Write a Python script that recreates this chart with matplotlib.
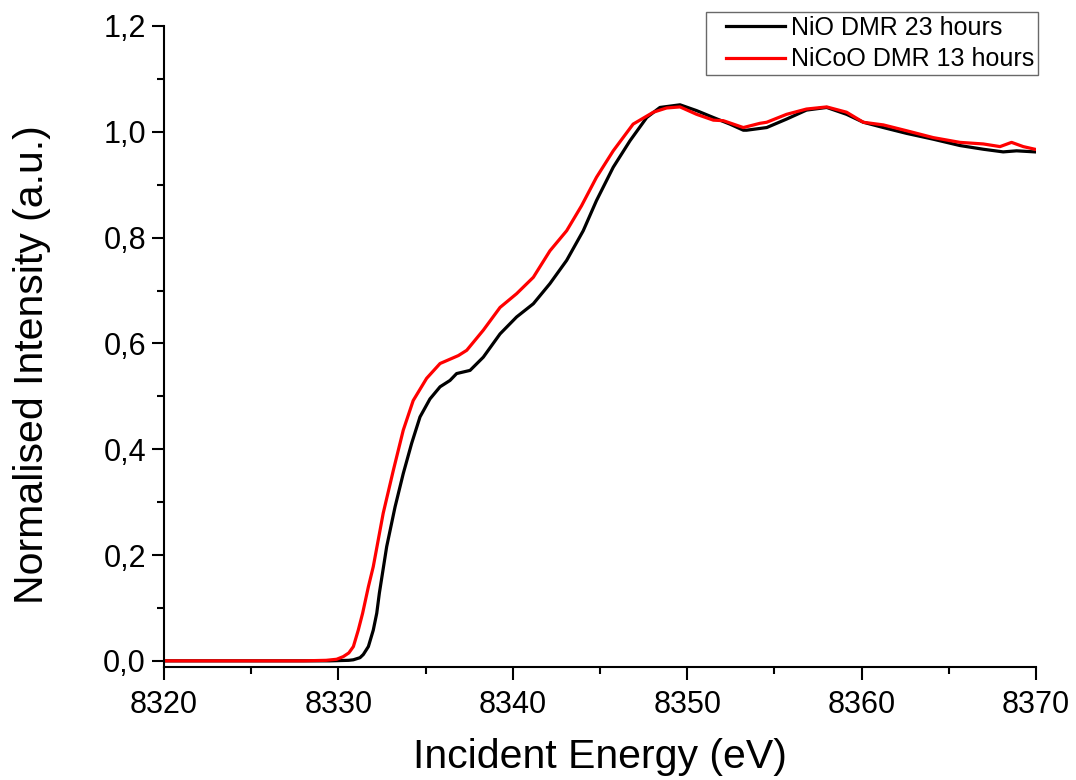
"""
XANES Ni K-edge comparison: NiO vs NiCoO after DMR
"""
import matplotlib
matplotlib.use('Agg')
import matplotlib.pyplot as plt
from matplotlib.lines import Line2D
from matplotlib.legend_handler import HandlerLine2D
from matplotlib.ticker import MultipleLocator, FuncFormatter

plt.rcParams['font.family'] = ['Liberation Sans', 'DejaVu Sans']

# NiO DMR 23 hours (black)
nio_energy = [8320.0, 8324.0, 8328.0, 8329.5, 8330.6, 8330.86, 8331.24, 8331.43, 8331.72,
              8332.0, 8332.2, 8332.35, 8332.77,
              8333.25, 8333.72, 8334.2, 8334.68, 8335.25, 8335.83, 8336.4, 8336.78,
              8337.55, 8338.31, 8339.27, 8340.22, 8341.18, 8342.13, 8343.09, 8344.04,
              8344.8, 8345.76, 8346.72, 8347.68, 8348.44, 8349.59, 8350.54, 8351.5,
              8352.45, 8353.22, 8353.41, 8354.56, 8355.7, 8356.84, 8358.0, 8359.14,
              8360.1, 8361.25, 8362.58, 8364.11, 8365.64, 8366.98, 8368.12, 8368.89,
              8369.94]
nio_intensity = [0.0, 0.0, 0.0, 0.0, 0.001, 0.002, 0.006, 0.012, 0.027,
                 0.058, 0.090, 0.128, 0.216,
                 0.291, 0.354, 0.411, 0.461, 0.495, 0.518, 0.530, 0.543,
                 0.549, 0.574, 0.618, 0.650, 0.675, 0.713, 0.757, 0.813,
                 0.870, 0.933, 0.983, 1.027, 1.046, 1.051, 1.040, 1.027,
                 1.0145, 1.003, 1.003, 1.008, 1.024, 1.041, 1.046, 1.033,
                 1.018, 1.008, 0.997, 0.986, 0.974, 0.967, 0.962, 0.964,
                 0.962]

# NiCoO DMR 13 hours (red)
nicoo_energy = [8320.0, 8324.0, 8328.0, 8329.3, 8329.9, 8330.28, 8330.6, 8330.86, 8331.14,
                8331.39, 8331.72, 8332.0, 8332.57,
                8333.15, 8333.72, 8334.29, 8335.06, 8335.83, 8336.88, 8337.36, 8338.31,
                8339.27, 8340.22, 8341.18, 8342.13, 8343.09, 8343.94, 8344.8, 8345.76,
                8346.9, 8348.06, 8348.82, 8349.59, 8350.54, 8351.5, 8352.07, 8353.22,
                8354.17, 8354.56, 8355.7, 8356.84, 8358.0, 8359.14, 8360.1, 8361.25,
                8362.58, 8364.11, 8365.64, 8366.98, 8367.94, 8368.6, 8369.27, 8369.94]
nicoo_intensity = [0.0, 0.0, 0.0, 0.001, 0.003, 0.008, 0.015, 0.027, 0.058,
                   0.090, 0.140, 0.178, 0.279,
                   0.360, 0.436, 0.492, 0.534, 0.562, 0.577, 0.587, 0.625,
                   0.668, 0.694, 0.725, 0.775, 0.813, 0.860, 0.914, 0.964,
                   1.0145, 1.037, 1.045, 1.047, 1.033, 1.022, 1.021, 1.008,
                   1.016, 1.018, 1.033, 1.043, 1.047, 1.037, 1.018, 1.013,
                   1.002, 0.989, 0.980, 0.977, 0.972, 0.980, 0.972, 0.967]

x_ticks = [8320, 8330, 8340, 8350, 8360, 8370]

fig = plt.figure(figsize=(10.76, 7.8), dpi=100)
ax = fig.add_axes([0.1524, 0.1453, 0.8104, 0.8214])

ax.plot(nio_energy, nio_intensity, color='black', lw=2.3, label='NiO DMR 23 hours')
ax.plot(nicoo_energy, nicoo_intensity, color='#ff0000', lw=2.3, label='NiCoO DMR 13 hours')

ax.set_xlim(8320, 8370)
ax.set_ylim(-0.011, 1.2)

ax.spines['top'].set_visible(False)
ax.spines['right'].set_visible(False)
for s in ('left', 'bottom'):
    ax.spines[s].set_linewidth(1.5)

ax.set_xticks(x_ticks)
ax.xaxis.set_minor_locator(MultipleLocator(5))
ax.yaxis.set_major_locator(MultipleLocator(0.2))
ax.yaxis.set_minor_locator(MultipleLocator(0.1))
ax.yaxis.set_major_formatter(FuncFormatter(lambda v, p: f"{v:.1f}".replace('.', ',')))

ax.tick_params(which='major', direction='out', length=9, width=1.5, labelsize=22)
ax.tick_params(which='minor', direction='out', length=5, width=1.5)
ax.tick_params(axis='x', which='major', pad=8)
ax.tick_params(axis='y', which='major', pad=4)

ax.set_xlabel('Incident Energy (eV)', fontsize=29.5, va='center')
ax.set_ylabel('Normalised Intensity (a.u.)', fontsize=29.5, va='center')
ax.xaxis.set_label_coords(0.5, -0.141)
ax.yaxis.set_label_coords(-0.151, 0.471)

# legend handle inset from the frame like the Origin original
leg = ax.legend(loc='upper right', bbox_to_anchor=(1038 / 1076, 1 - 12 / 780),
                bbox_transform=fig.transFigure, fontsize=18, frameon=True,
                fancybox=False, borderaxespad=0, handlelength=3.0,
                handletextpad=0.25, labelspacing=0.3, borderpad=0.15,
                handler_map={Line2D: HandlerLine2D(xpad=0.66)})
leg.get_frame().set_edgecolor('#444444')
leg.get_frame().set_linewidth(1.0)

plt.savefig('out.png', dpi=100)
